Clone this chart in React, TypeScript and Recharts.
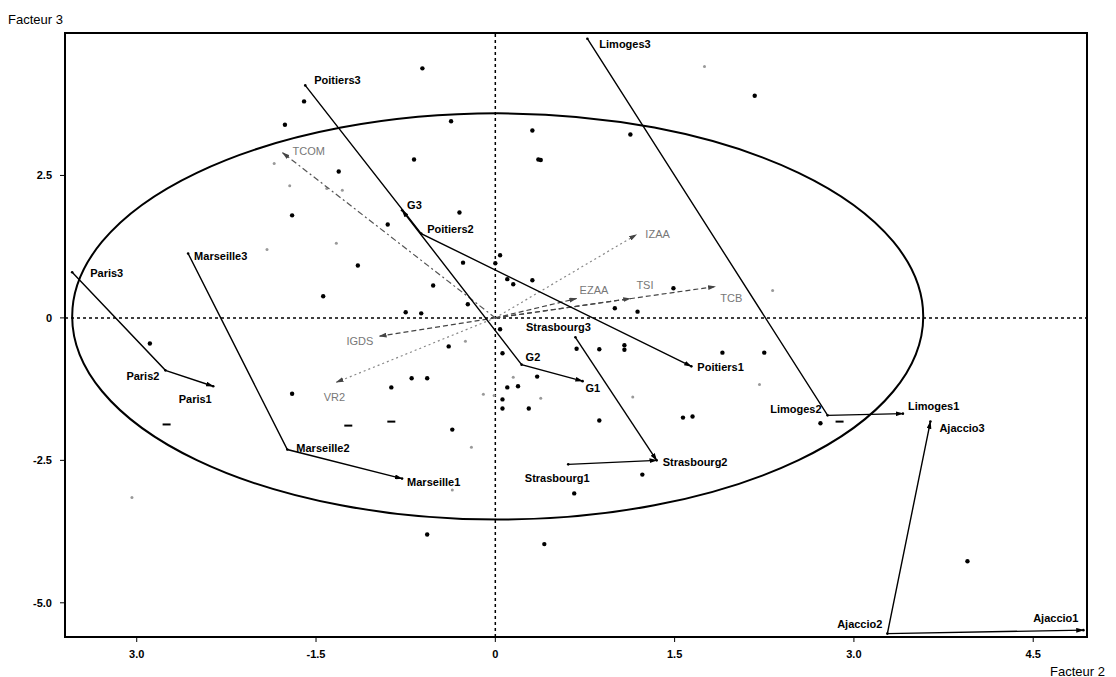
import React from 'react'
import { ScatterChart, Scatter, XAxis, YAxis, ReferenceLine, ReferenceArea } from 'recharts'

type Pt = { name?: string; x: number; y: number }

// axes
const xTicks = [-3, -1.5, 0, 1.5, 3, 4.5]
const xTickLabels = ['3.0', '-1.5', '0', '1.5', '3.0', '4.5']
const yTicks = [-5, -2.5, 0, 2.5]
const yTickLabels = ['-5.0', '-2.5', '0', '2.5']

// trajectories (3 -> 2 -> 1)
const paris: Pt[] = [
  { name: 'Paris3', x: -3.54, y: 0.8 },
  { name: 'Paris2', x: -2.76, y: -0.92 },
  { name: 'Paris1', x: -2.36, y: -1.2 },
]
const marseille: Pt[] = [
  { name: 'Marseille3', x: -2.57, y: 1.13 },
  { name: 'Marseille2', x: -1.74, y: -2.31 },
  { name: 'Marseille1', x: -0.78, y: -2.82 },
]
const poitiers: Pt[] = [
  { name: 'Poitiers3', x: -1.59, y: 4.08 },
  { name: 'Poitiers2', x: -0.62, y: 1.48 },
  { name: 'Poitiers1', x: 1.64, y: -0.85 },
]
const limoges: Pt[] = [
  { name: 'Limoges3', x: 0.77, y: 4.9 },
  { name: 'Limoges2', x: 2.78, y: -1.71 },
  { name: 'Limoges1', x: 3.41, y: -1.68 },
]
const ajaccio: Pt[] = [
  { name: 'Ajaccio3', x: 3.64, y: -1.82 },
  { name: 'Ajaccio2', x: 3.28, y: -5.54 },
  { name: 'Ajaccio1', x: 4.92, y: -5.48 },
]
const strasbourg: Pt[] = [
  { name: 'Strasbourg3', x: 0.67, y: -0.34 },
  { name: 'Strasbourg2', x: 1.35, y: -2.5 },
  { name: 'Strasbourg1', x: 0.61, y: -2.57 },
]
const groupes: Pt[] = [
  { name: 'G3', x: -0.78, y: 1.89 },
  { name: 'G2', x: 0.22, y: -0.82 },
  { name: 'G1', x: 0.73, y: -1.11 },
]

// variables (arrows from origin)
const variables: Pt[] = [
  { name: 'TCOM', x: -1.78, y: 2.9 },
  { name: 'IZAA', x: 1.18, y: 1.46 },
  { name: 'EZAA', x: 0.68, y: 0.34 },
  { name: 'TSI', x: 1.13, y: 0.34 },
  { name: 'TCB', x: 1.84, y: 0.55 },
  { name: 'IGDS', x: -0.97, y: -0.32 },
  { name: 'VR2', x: -1.33, y: -1.13 },
]

// individuals
const dots: Pt[] = [
  { x: -1.6, y: 3.8 }, { x: -1.76, y: 3.39 }, { x: -0.37, y: 3.45 }, { x: -0.61, y: 4.38 },
  { x: -1.31, y: 2.57 }, { x: -0.68, y: 2.78 }, { x: 0.31, y: 3.29 }, { x: 0.36, y: 2.78 },
  { x: 0.38, y: 2.77 }, { x: 1.13, y: 3.22 }, { x: 2.17, y: 3.9 }, { x: -1.7, y: 1.8 },
  { x: -0.3, y: 1.85 }, { x: -0.9, y: 1.64 }, { x: -1.15, y: 0.92 }, { x: -0.27, y: 0.97 },
  { x: -1.44, y: 0.38 }, { x: -0.52, y: 0.57 }, { x: -0.23, y: 0.24 }, { x: -0.75, y: 0.1 },
  { x: -0.62, y: 0.08 }, { x: 0.04, y: 1.1 }, { x: 0.0, y: 0.96 }, { x: 0.1, y: 0.68 },
  { x: 0.15, y: 0.59 }, { x: 0.31, y: 0.66 }, { x: 1.49, y: 0.52 }, { x: 1.0, y: 0.17 },
  { x: 1.19, y: 0.11 }, { x: -2.89, y: -0.45 }, { x: -1.7, y: -1.33 }, { x: -0.87, y: -1.22 },
  { x: -0.7, y: -1.06 }, { x: -0.57, y: -1.06 }, { x: -0.39, y: -0.5 }, { x: -0.36, y: -1.96 },
  { x: 0.04, y: -0.2 }, { x: 0.06, y: -0.62 }, { x: 0.1, y: -1.22 }, { x: 0.19, y: -1.2 },
  { x: 0.35, y: -1.03 }, { x: 0.06, y: -1.43 }, { x: 0.06, y: -1.59 }, { x: 0.28, y: -1.59 },
  { x: 0.68, y: -0.54 }, { x: 0.87, y: -0.55 }, { x: 1.08, y: -0.48 }, { x: 1.08, y: -0.56 },
  { x: 1.9, y: -0.61 }, { x: 2.25, y: -0.61 }, { x: 0.87, y: -1.8 }, { x: 1.57, y: -1.75 },
  { x: 1.65, y: -1.73 }, { x: 1.23, y: -2.75 }, { x: 0.66, y: -3.08 }, { x: 0.41, y: -3.97 },
  { x: -0.57, y: -3.8 }, { x: 2.72, y: -1.85 }, { x: 3.95, y: -4.27 },
]
const faintDots: Pt[] = [
  { x: -1.85, y: 2.71 }, { x: -1.72, y: 2.32 }, { x: -1.41, y: 2.27 }, { x: -1.28, y: 2.24 },
  { x: -1.33, y: 1.31 }, { x: 1.75, y: 4.41 }, { x: 2.32, y: 0.48 }, { x: -0.25, y: -0.41 },
  { x: 0.15, y: -1.04 }, { x: 0.38, y: -1.41 }, { x: -0.1, y: -1.34 }, { x: -0.01, y: -1.36 },
  { x: -0.2, y: -2.27 }, { x: 1.15, y: -1.39 }, { x: 2.21, y: -1.17 }, { x: -1.91, y: 1.2 },
  { x: -0.36, y: -3.02 }, { x: -3.04, y: -3.15 },
]
const dashes: Pt[] = [
  { x: -2.75, y: -1.87 }, { x: -1.23, y: -1.89 }, { x: -0.87, y: -1.82 }, { x: 2.88, y: -1.82 },
]

const origin: Pt = { x: 0, y: 0 }

// label placement: [dx, dy, anchor]
const labelPos: Record<string, [number, number, 'start' | 'middle' | 'end']> = {
  Paris3: [18, 1, 'start'],
  Paris2: [-6, 6, 'end'],
  Paris1: [-18, 13, 'middle'],
  Marseille3: [6, 2, 'start'],
  Marseille2: [9, -2, 'start'],
  Marseille1: [5, 3, 'start'],
  Poitiers3: [9, -5, 'start'],
  Poitiers2: [6, -5, 'start'],
  Poitiers1: [6, 1, 'start'],
  Limoges3: [12, 5, 'start'],
  Limoges2: [-6, -6, 'end'],
  Limoges1: [5, -8, 'start'],
  Ajaccio3: [9, 6, 'start'],
  Ajaccio2: [-5, -10, 'end'],
  Ajaccio1: [-5, -12, 'end'],
  Strasbourg3: [-17, -10, 'middle'],
  Strasbourg2: [6, 2, 'start'],
  Strasbourg1: [-11, 14, 'middle'],
  G3: [5, -5, 'start'],
  G2: [4, -8, 'start'],
  G1: [3, 7, 'start'],
  TCOM: [10, -2, 'start'],
  IZAA: [9, -1, 'start'],
  EZAA: [3, -9, 'start'],
  TSI: [6, -14, 'start'],
  TCB: [5, 11, 'start'],
  IGDS: [-6, 5, 'end'],
  VR2: [-2, 15, 'middle'],
}

const varStyle: Record<string, { stroke: string; dash: string }> = {
  TCOM: { stroke: '#555', dash: '6 3 2 3' },
  IZAA: { stroke: '#888', dash: '2 3' },
  EZAA: { stroke: '#444', dash: '5 3' },
  TSI: { stroke: '#444', dash: '5 3' },
  TCB: { stroke: '#444', dash: '5 3' },
  IGDS: { stroke: '#444', dash: '5 3' },
  VR2: { stroke: '#888', dash: '2 3' },
}

const FONT = '"Liberation Sans", Arial, sans-serif'

const noShape = () => <g />

const CityLabel = (props: any) => {
  const { cx, cy, payload } = props
  const name = payload?.name ?? props.name
  const [dx, dy, anchor] = labelPos[name] ?? [6, 0, 'start']
  return (
    <g>
      <circle cx={cx} cy={cy} r={1.3} fill="#000" />
      <text x={cx + dx} y={cy + dy} textAnchor={anchor} dominantBaseline="central"
        fontSize={11} fontWeight={700} fontFamily={FONT} fill="#000">{name}</text>
    </g>
  )
}

const VarLabel = (props: any) => {
  const { cx, cy, payload } = props
  const name = payload?.name ?? props.name
  const [dx, dy, anchor] = labelPos[name] ?? [6, 0, 'start']
  return (
    <text x={cx + dx} y={cy + dy} textAnchor={anchor} dominantBaseline="central"
      fontSize={11} fontFamily={FONT} fill="#777">{name}</text>
  )
}

const Dot = (props: any) => <circle cx={props.cx} cy={props.cy} r={2.2} fill="#000" />
const FaintDot = (props: any) => <circle cx={props.cx} cy={props.cy} r={1.5} fill="#999" />
const Dash = (props: any) => (
  <line x1={props.cx - 4} x2={props.cx + 4} y1={props.cy} y2={props.cy} stroke="#000" strokeWidth={2} />
)

const Ellipse = (p: any) => (
  <ellipse cx={p.x + p.width / 2} cy={p.y + p.height / 2} rx={Math.abs(p.width) / 2} ry={Math.abs(p.height) / 2}
    fill="none" stroke="#000" strokeWidth={2} />
)

const trajLine = (start: boolean) => ({
  stroke: '#000',
  strokeWidth: 1.4,
  markerEnd: 'url(#arrowK)',
  ...(start ? { markerStart: 'url(#arrowK)' } : {}),
})

export default function App() {
  const cities = [...paris, ...marseille, ...poitiers, ...limoges, ...ajaccio, ...strasbourg, ...groupes]
  return (
    <div style={{ position: 'absolute', left: 0, top: 0, width: 1116, height: 677, background: '#fff' }}>
      <svg width={0} height={0} style={{ position: 'absolute' }}>
        <defs>
          <marker id="arrowK" viewBox="0 0 10 6" refX={9} refY={3} markerWidth={8} markerHeight={5}
            markerUnits="userSpaceOnUse" orient="auto-start-reverse">
            <path d="M0,0 L10,3 L0,6 z" fill="#000" />
          </marker>
          <marker id="arrowG" viewBox="0 0 10 6" refX={9} refY={3} markerWidth={8} markerHeight={5}
            markerUnits="userSpaceOnUse" orient="auto-start-reverse">
            <path d="M0,0 L10,3 L0,6 z" fill="#444" />
          </marker>
        </defs>
      </svg>
      <ScatterChart width={1116} height={677} margin={{ top: 33, right: 29, bottom: 10, left: 20 }}>
        <XAxis type="number" dataKey="x" domain={[-3.6, 4.95]} ticks={xTicks} interval={0} allowDataOverflow
          tickFormatter={(v: number) => xTickLabels[xTicks.indexOf(v)] ?? String(v)}
          height={30} tickSize={5} tickMargin={8}
          axisLine={{ stroke: '#000', strokeWidth: 2 }} tickLine={{ stroke: '#000' }}
          tick={{ fontSize: 11, fontWeight: 700, fill: '#000', fontFamily: FONT }} />
        <YAxis type="number" dataKey="y" domain={[-5.6, 5.0]} ticks={yTicks} interval={0} allowDataOverflow
          tickFormatter={(v: number) => yTickLabels[yTicks.indexOf(v)] ?? String(v)}
          width={45} tickSize={5} tickMargin={8}
          axisLine={{ stroke: '#000', strokeWidth: 2 }} tickLine={{ stroke: '#000' }}
          tick={{ fontSize: 11, fontWeight: 700, fill: '#000', fontFamily: FONT }} />
        <ReferenceArea x1={-3.6} x2={4.95} y1={-5.6} y2={5.0} fill="none" stroke="#000" strokeWidth={2} />
        <ReferenceArea x1={-3.54} x2={3.58} y1={-3.54} y2={3.59} shape={Ellipse} />
        <ReferenceLine x={0} stroke="#000" strokeWidth={1.5} strokeDasharray="3 3" />
        <ReferenceLine y={0} stroke="#000" strokeWidth={1.5} strokeDasharray="3 3" />

        <Scatter data={dots} shape={Dot} isAnimationActive={false} />
        <Scatter data={faintDots} shape={FaintDot} isAnimationActive={false} />
        <Scatter data={dashes} shape={Dash} isAnimationActive={false} />

        {variables.map((v) => (
          <Scatter key={v.name} data={[origin, v]} shape={noShape} lineType="joint" isAnimationActive={false}
            line={{ stroke: varStyle[v.name!].stroke, strokeWidth: 1.2, strokeDasharray: varStyle[v.name!].dash, markerEnd: 'url(#arrowG)' }} />
        ))}
        <Scatter data={variables} shape={VarLabel} isAnimationActive={false} />

        <Scatter data={paris} shape={noShape} lineType="joint" line={trajLine(false)} isAnimationActive={false} />
        <Scatter data={marseille} shape={noShape} lineType="joint" line={trajLine(false)} isAnimationActive={false} />
        <Scatter data={poitiers} shape={noShape} lineType="joint" line={trajLine(false)} isAnimationActive={false} />
        <Scatter data={limoges} shape={noShape} lineType="joint" line={trajLine(false)} isAnimationActive={false} />
        <Scatter data={ajaccio} shape={noShape} lineType="joint" line={trajLine(true)} isAnimationActive={false} />
        <Scatter data={groupes} shape={noShape} lineType="joint" line={trajLine(true)} isAnimationActive={false} />
        <Scatter data={[strasbourg[0], strasbourg[1]]} shape={noShape} lineType="joint" line={trajLine(false)} isAnimationActive={false} />
        <Scatter data={[strasbourg[2], strasbourg[1]]} shape={noShape} lineType="joint" line={trajLine(false)} isAnimationActive={false} />
        <Scatter data={cities} shape={CityLabel} isAnimationActive={false} />
      </ScatterChart>
      <div style={{ position: 'absolute', left: 8, top: 12, fontFamily: FONT, fontSize: 13, lineHeight: '15px', color: '#000' }}>
        Facteur 3
      </div>
      <div style={{ position: 'absolute', left: 1050, top: 664, fontFamily: FONT, fontSize: 13, lineHeight: '15px', color: '#000' }}>
        Facteur 2
      </div>
    </div>
  )
}
